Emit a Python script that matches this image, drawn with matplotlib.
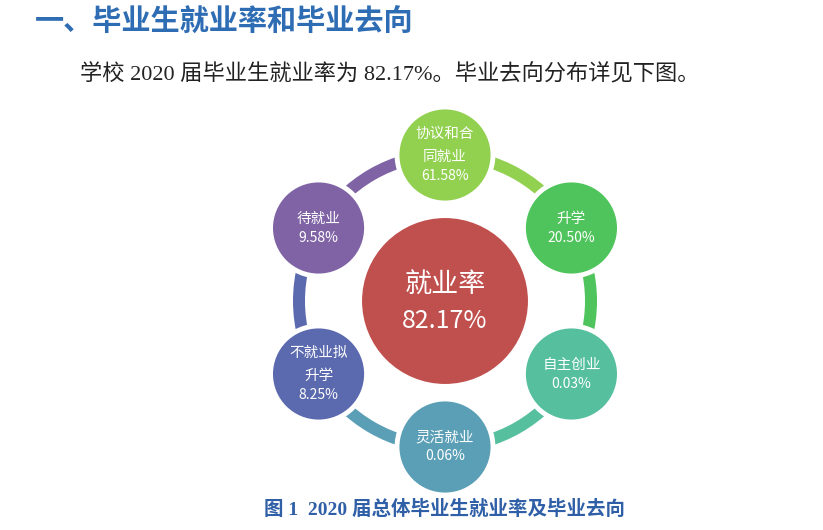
import numpy as np
import matplotlib.pyplot as plt
from matplotlib.patches import Circle, Wedge

# chart data
title = "一、毕业生就业率和毕业去向"
intro = "学校 2020 届毕业生就业率为 82.17%。毕业去向分布详见下图。"
caption = "图 1  2020 届总体毕业生就业率及毕业去向"
center_label = "就业率"
center_value = "82.17%"
labels = ["协议和合\n同就业", "升学", "自主创业", "灵活就业", "不就业拟\n升学", "待就业"]
values = ["61.58%", "20.50%", "0.03%", "0.06%", "8.25%", "9.58%"]
colors = ["#92D050", "#50C45C", "#56BF9E", "#5A9FB6", "#5B69AE", "#7F63A4"]

W, H = 823, 530
fig = plt.figure(figsize=(W / 100, H / 100), dpi=100)
ax = fig.add_axes([0, 0, 1, 1])
ax.set_xlim(0, W)
ax.set_ylim(H, 0)
ax.axis("off")

cjk = ["Noto Sans CJK SC", "DejaVu Sans"]
serif = ["Liberation Serif", "Noto Sans CJK SC"]

ax.text(35, 22, title, fontsize=21, fontweight="bold", color="#2E6DB4",
        family=cjk, va="center", ha="left")
ax.text(80, 75, intro, fontsize=16, color="#222222", family=serif,
        va="center", ha="left")
ax.text(445, 509, caption, fontsize=14, fontweight="bold", color="#2F5FA7",
        family=serif, va="center", ha="center")

# cycle layout (y axis points down, so increasing angle runs clockwise)
cx, cy, R = 445, 301, 146
r_node, r_center = 48, 84
n = len(labels)
step = 360 / n
angles = -90 + step * np.arange(n)

# ring arcs, each in the colour of the node it leaves from
for ang, col in zip(angles, colors):
    ax.add_patch(Wedge((cx, cy), R + 6, ang, ang + step, width=12,
                       facecolor=col, edgecolor="none", zorder=1))

# center circle
ax.add_patch(Circle((cx, cy), r_center, facecolor="#C0504D", edgecolor="white",
                    linewidth=1.5, zorder=2))
ax.text(cx, cy - 17, center_label, fontsize=19.5, color="white", family=cjk,
        ha="center", va="center", zorder=3)
ax.text(cx, cy + 20, center_value, fontsize=18, color="white", family=cjk,
        ha="center", va="center", zorder=3)

# outer nodes
for ang, lab, val, col in zip(angles, labels, values, colors):
    x = cx + R * np.cos(np.deg2rad(ang))
    y = cy + R * np.sin(np.deg2rad(ang))
    ax.add_patch(Circle((x, y), r_node, facecolor=col, edgecolor="white",
                        linewidth=3.5, zorder=2))
    lines = lab.split("\n")
    total = (len(lines) - 1) * 23 + 19
    y0 = y - total / 2
    for k, line in enumerate(lines):
        ax.text(x, y0 + k * 23, line, fontsize=10.5, color="white",
                family=cjk, ha="center", va="center", zorder=3)
    ax.text(x, y0 + total, val, fontsize=10, color="white", family=cjk,
            ha="center", va="center", zorder=3)

fig.savefig("out.png", dpi=100)
